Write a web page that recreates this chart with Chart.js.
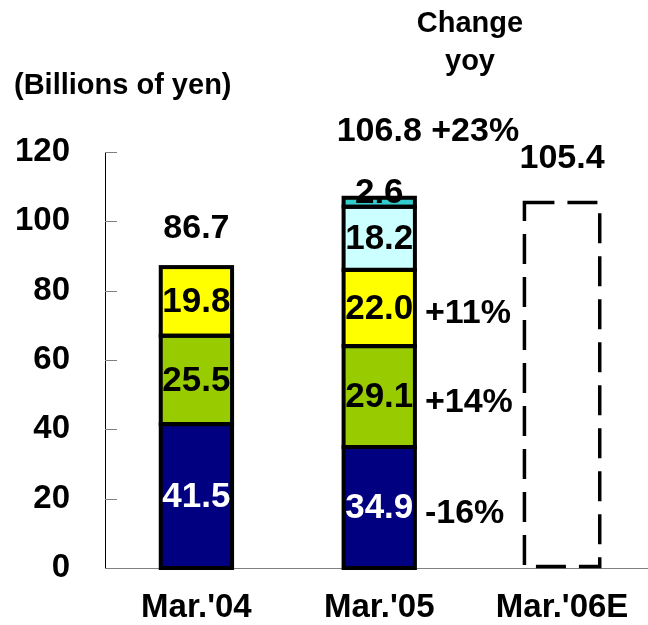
<!DOCTYPE html>
<html>
<head>
<meta charset="utf-8">
<script src="https://cdn.jsdelivr.net/npm/chart.js@4"></script>
<style>
    html, body { margin: 0; padding: 0; background: #fff; overflow: hidden; }
    #wrap { position: relative; width: 660px; height: 625px; }
</style>
</head>
<body>
<div id="wrap"><canvas id="grafica"></canvas></div>
<script>
const categorias = ["Mar.'04", "Mar.'05", "Mar.'06E"];
const serieAzul = [41.5, 34.9, null];
const serieVerde = [25.5, 29.1, null];
const serieAmarilla = [19.8, 22.0, null];
const serieCeleste = [null, 18.2, null];
const serieTurquesa = [null, 2.6, null];
const serieEstimado = [null, null, 105.4];
const totales = ["86.7", "106.8", "105.4"];
const cambioTotal = "+23%";
const cambios = ["-16%", "+14%", "+11%"];
const yTicks = [0, 20, 40, 60, 80, 100, 120];

const fuente = "'Liberation Sans', Arial, sans-serif";

const etiquetasPlugin = {
    id: "etiquetas",
    afterDatasetsDraw(chart) {
        const ctx = chart.ctx;
        ctx.save();
        // bordes de los segmentos (una sola linea entre segmentos)
        ctx.strokeStyle = "#000";
        ctx.lineWidth = 4;
        for (let d = 0; d < 5; d++) {
            const datos = chart.data.datasets[d].data;
            chart.getDatasetMeta(d).data.forEach((el, i) => {
                if (datos[i] == null) return;
                const p = el.getProps(["x", "y", "base", "width"], true);
                ctx.strokeRect(p.x - p.width / 2, p.y, p.width, p.base - p.y);
            });
        }
        // barra estimada con borde discontinuo
        const est = chart.getDatasetMeta(5).data[2];
        if (est) {
            const p = est.getProps(["x", "y", "base", "width"], true);
            ctx.lineWidth = 3.5;
            ctx.setLineDash([30, 13]);
            ctx.strokeRect(p.x - p.width / 2 - 2, p.y, p.width + 4, p.base - p.y - 1.5);
            ctx.setLineDash([]);
        }
        ctx.restore();
    },
    afterDraw(chart) {
        const ctx = chart.ctx;
        const yScale = chart.scales.y;
        ctx.save();

        // ticks hacia dentro
        ctx.strokeStyle = "#808080";
        ctx.lineWidth = 1;
        yTicks.forEach(v => {
            const py = Math.round(yScale.getPixelForValue(v)) + 0.5;
            ctx.beginPath();
            ctx.moveTo(yScale.right, py);
            ctx.lineTo(yScale.right + 12, py);
            ctx.stroke();
        });

        ctx.textAlign = "center";
        ctx.textBaseline = "middle";
        ctx.font = "bold 35px " + fuente;

        // valores dentro de los segmentos
        for (let d = 0; d < 5; d++) {
            const meta = chart.getDatasetMeta(d);
            const datos = chart.data.datasets[d].data;
            meta.data.forEach((el, i) => {
                if (datos[i] == null) return;
                const p = el.getProps(["x", "y", "base"], true);
                let cy = (p.y + p.base) / 2 + 1;
                if (p.base - p.y < 20) cy -= 10;
                ctx.fillStyle = d === 0 ? "#fff" : "#000";
                ctx.fillText(datos[i].toFixed(1), p.x, cy);
            });
        }

        // totales
        ctx.font = "bold 34px " + fuente;
        const est = chart.getDatasetMeta(5).data[2];
        const altos = [38, 66, 44];
        const topes = [chart.getDatasetMeta(2).data[0], chart.getDatasetMeta(4).data[1], est];
        topes.forEach((el, i) => {
            const p = el.getProps(["x", "y"], true);
            ctx.fillStyle = "#000";
            ctx.fillText(totales[i], p.x, p.y - altos[i]);
            if (i === 1) {
                ctx.textAlign = "left";
                ctx.fillText(cambioTotal, p.x + 52, p.y - altos[i]);
                ctx.textAlign = "center";
            }
        });

        // cambios interanuales
        ctx.textAlign = "left";
        for (let d = 0; d < 3; d++) {
            const el = chart.getDatasetMeta(d).data[1];
            const p = el.getProps(["x", "y", "base", "width"], true);
            ctx.fillText(cambios[d], p.x + p.width / 2 + 10, (p.y + p.base) / 2 + 6);
        }

        // encabezados
        ctx.font = "bold 29px " + fuente;
        ctx.textAlign = "center";
        ctx.fillText("Change", 470, 24);
        ctx.fillText("yoy", 470, 62);
        ctx.textAlign = "left";
        ctx.fillText("(Billions of yen)", 14, 86);

        ctx.restore();
    }
};

const base = {
    borderWidth: 0,
    categoryPercentage: 1,
    barPercentage: 0.39
};

new Chart(document.getElementById("grafica"), {
    type: "bar",
    data: {
        labels: categorias,
        datasets: [
            { ...base, data: serieAzul, backgroundColor: "#000080" },
            { ...base, data: serieVerde, backgroundColor: "#99cc00" },
            { ...base, data: serieAmarilla, backgroundColor: "#ffff00" },
            { ...base, data: serieCeleste, backgroundColor: "#ccffff" },
            { ...base, data: serieTurquesa, backgroundColor: "#33cccc" },
            { ...base, data: serieEstimado, backgroundColor: "#fff" }
        ]
    },
    options: {
        responsive: true,
        maintainAspectRatio: false,
        animation: false,
        layout: { padding: { top: 152, right: 6.5, bottom: 0, left: 0 } },
        plugins: {
            legend: { display: false },
            tooltip: { enabled: false }
        },
        scales: {
            x: {
                stacked: true,
                grid: { display: false, drawTicks: false },
                border: { display: true, color: "#808080", width: 1 },
                ticks: {
                    color: "#000",
                    padding: 20,
                    font: { family: fuente, size: 33, weight: "bold" }
                },
                afterFit: s => { s.height = 57; }
            },
            y: {
                stacked: true,
                min: 0,
                max: 120,
                grid: { display: false, drawTicks: false },
                border: { display: true, color: "#000", width: 1 },
                ticks: {
                    stepSize: 20,
                    color: "#000",
                    padding: 35,
                    font: { family: fuente, size: 33, weight: "bold" }
                },
                afterFit: s => { s.width = 105; }
            }
        }
    },
    plugins: [etiquetasPlugin]
});
</script>
</body>
</html>
